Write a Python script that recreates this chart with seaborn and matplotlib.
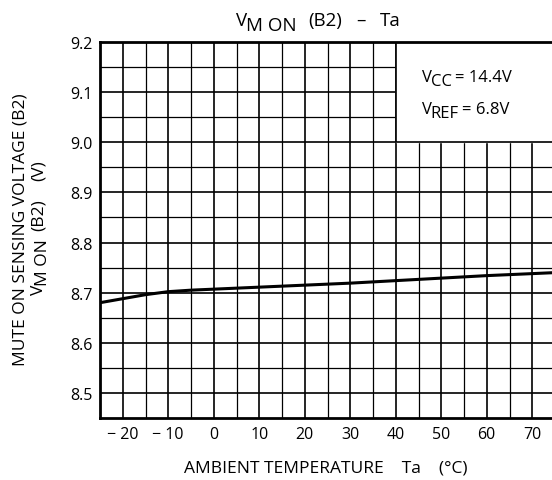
import matplotlib
matplotlib.use('Agg')
import matplotlib.pyplot as plt
import matplotlib.transforms as mtransforms
import pandas as pd
import seaborn as sns

# values
ta = [-25, -20, -15, -10, -5, 0, 10, 20, 30, 40, 50, 60, 70, 75]
vm_on = [8.680, 8.688, 8.696, 8.702, 8.705, 8.707, 8.711, 8.715, 8.719, 8.724, 8.729, 8.734, 8.738, 8.740]

x_ticks = [-20, -10, 0, 10, 20, 30, 40, 50, 60, 70]
x_labels = ['− 20', '− 10', '0', '10', '20', '30', '40', '50', '60', '70']
y_ticks = [8.5, 8.6, 8.7, 8.8, 8.9, 9.0, 9.1, 9.2]
y_labels = ['8.5', '8.6', '8.7', '8.8', '8.9', '9.0', '9.1', '9.2']

df = pd.DataFrame({'Ta': ta, 'V': vm_on})

sns.set_style('white')
plt.rcParams['font.family'] = ['Open Sans', 'DejaVu Sans']
plt.rcParams['text.color'] = 'black'
plt.rcParams['xtick.color'] = 'black'
plt.rcParams['ytick.color'] = 'black'

fig = plt.figure(figsize=(5.52, 4.81), dpi=100)
ax = fig.add_axes([100 / 552, 62 / 481, 455 / 552, 376 / 481])
renderer = fig.canvas.get_renderer()


def pieces_text(x, y, pieces, size, rotation=0, centre=True):
    # pieces: (text, drop in px, gap after in px); x, y in pixels from top-left
    widths = []
    for txt, drop, gap in pieces:
        t = fig.text(0, 0, txt, fontsize=size)
        widths.append(t.get_window_extent(renderer).width)
        t.remove()
    total = sum(widths) + sum(p[2] for p in pieces[:-1])
    pos = -total / 2 if centre else 0
    for (txt, drop, gap), w in zip(pieces, widths):
        if rotation == 0:
            dx, dy = pos, -drop
        else:
            dx, dy = drop, pos
        tr = mtransforms.offset_copy(fig.transFigure, fig=fig, x=dx, y=dy, units='dots')
        fig.text(x / 552, 1 - y / 481, txt, fontsize=size, transform=tr, ha='left',
                 va='baseline', rotation=rotation, rotation_mode='anchor')
        pos += w + gap


ax.set_xlim(-25, 75)
ax.set_ylim(8.45, 9.2)

# grid: every 5 degC and every 0.05 V
for gx in range(-20, 76, 5):
    ax.axvline(gx, color='black', lw=1.2 if gx % 10 == 0 else 0.9, zorder=1)
for i in range(1, 15):
    gy = 8.45 + i * 0.05
    ax.axhline(gy, color='black', lw=1.2 if i % 2 == 1 else 0.9, zorder=1)

# condition box in the upper right corner
ax.fill_between([40, 76], 9.0, 9.2, color='white', zorder=2)
ax.plot([40, 40, 76], [9.2, 9.0, 9.0], color='black', lw=1.2, zorder=3)

sns.lineplot(data=df, x='Ta', y='V', color='black', lw=2.2, ax=ax, zorder=5)

ax.set_xticks(x_ticks)
ax.set_xticklabels(x_labels, fontsize=11.5)
ax.set_yticks(y_ticks)
ax.set_yticklabels(y_labels, fontsize=11.5)
ax.tick_params(axis='both', length=0)
ax.tick_params(axis='x', pad=6)
ax.tick_params(axis='y', pad=5)
ax.set_xlabel('')
ax.set_ylabel('')

for side in ['left', 'bottom', 'top']:
    ax.spines[side].set_color('black')
    ax.spines[side].set_linewidth(2)
ax.spines['right'].set_visible(False)

pieces_text(422, 82, [('V', 0, -1), ('CC', 4, 3), ('= 14.4V', 0, 0)], 12, centre=False)
pieces_text(422, 114, [('V', 0, -1), ('REF', 4, 3), ('= 6.8V', 0, 0)], 12, centre=False)

pieces_text(318, 26, [('V', 0, -1), ('M ON', 5, 12), ('(B2)', 0, 14), ('–', 0, 14), ('Ta', 0, 0)], 13.5)
fig.text(326 / 552, 1 - 469 / 481, 'AMBIENT TEMPERATURE    Ta    (°C)',
         fontsize=12.5, ha='center', va='center')
fig.text(21 / 552, 1 - 230 / 481, 'MUTE ON SENSING VOLTAGE (B2)',
         fontsize=12.5, ha='center', va='center', rotation=90)
pieces_text(43, 228, [('V', 0, -1), ('M ON', 4, 8), ('(B2)', 0, 18), ('(V)', 0, 0)], 12.5, rotation=90)

fig.savefig('out.png', dpi=100)
